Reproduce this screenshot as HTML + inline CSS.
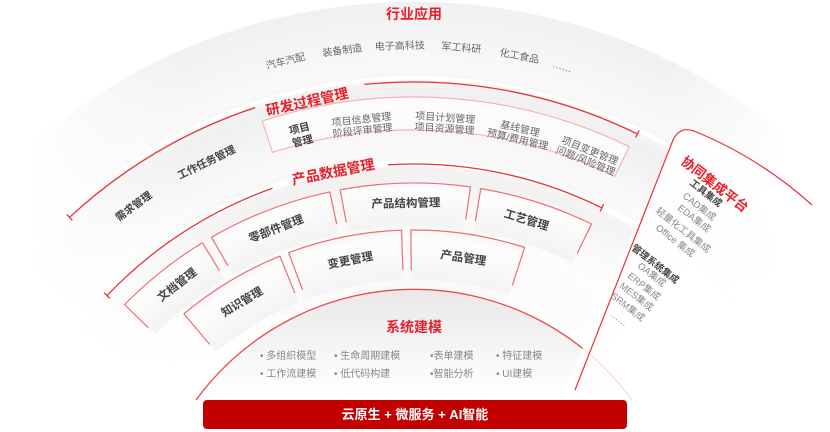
<!DOCTYPE html>
<html><head><meta charset="utf-8">
<style>
html,body{margin:0;padding:0;background:#fff;width:830px;height:432px;overflow:hidden}
svg{display:block}
text{font-family:"Liberation Sans","Noto Sans CJK SC",sans-serif}
.it{font-size:10px;fill:#666}
.cd{font-size:11.5px;fill:#444;font-weight:bold}
.rt{font-size:14px;fill:#e8202a;font-weight:bold}
.pn{font-size:9.5px;fill:#888}
.pb{font-size:9.5px;fill:#444;font-weight:bold}
</style></head><body>
<svg width="830" height="432" viewBox="0 0 830 432" xmlns="http://www.w3.org/2000/svg">
<defs>
<radialGradient id="bg" gradientUnits="userSpaceOnUse" cx="414" cy="588" r="590">
<stop offset="0.5" stop-color="#f2f2f2"/>
<stop offset="0.6" stop-color="#fbfbfb"/>
<stop offset="0.7" stop-color="#f1f1f1"/>
<stop offset="0.74" stop-color="#fafafa"/>
<stop offset="0.84" stop-color="#f0f0f0"/>
<stop offset="0.88" stop-color="#f9f9f9"/>
<stop offset="1" stop-color="#f0f0f0"/>
</radialGradient>
<radialGradient id="cg" gradientUnits="userSpaceOnUse" cx="414" cy="588" r="410">
<stop offset="0.74" stop-color="#f3f3f3"/>
<stop offset="0.85" stop-color="#fdfdfd"/>
<stop offset="0.88" stop-color="#f3f3f3"/>
<stop offset="1" stop-color="#ffffff"/>
</radialGradient>
<linearGradient id="dg" x1="0" y1="0" x2="0" y2="1">
<stop offset="0" stop-color="#e8e8e8"/><stop offset="0.6" stop-color="#f7f7f7"/><stop offset="1" stop-color="#ffffff"/>
</linearGradient>
<linearGradient id="fadeX" x1="0" y1="0" x2="1" y2="0">
<stop offset="0.03" stop-color="#000"/><stop offset="0.22" stop-color="#fff"/><stop offset="0.8" stop-color="#fff"/><stop offset="0.95" stop-color="#000"/>
</linearGradient>
<linearGradient id="fadeY" x1="0" y1="0" x2="0" y2="1">
<stop offset="0.45" stop-color="#fff"/><stop offset="0.85" stop-color="#000"/>
</linearGradient>
<mask id="mk"><rect x="0" y="0" width="830" height="432" fill="url(#fadeX)"/></mask>
<mask id="mk2"><rect x="0" y="0" width="830" height="432" fill="url(#fadeY)"/></mask>
<linearGradient id="pg" x1="0" y1="0" x2="1" y2="1">
<stop offset="0" stop-color="#fff"/><stop offset="1" stop-color="#fff" stop-opacity="0.6"/>
</linearGradient>
</defs>

<g mask="url(#mk2)"><g mask="url(#mk)">
<path id="b1" fill="url(#bg)"/>
<path id="b2" fill="url(#bg)"/>
<path id="b3" fill="url(#bg)"/>
</g></g>

<path id="a1" fill="none" stroke="#e8323c" stroke-width="1.3"/>
<path id="a2" fill="none" stroke="#e8323c" stroke-width="1.3"/>
<path id="box" fill="#fbfbfb" stroke="#f3b0b4" stroke-width="1.1"/>
<path id="a3" fill="none" stroke="#e8323c" stroke-width="1.3"/>
<path id="a4" fill="none" stroke="#e8323c" stroke-width="1.3"/>

<g id="cards"></g>

<path d="M 196 400 A 270 270 0 0 1 632 400 Z" fill="url(#dg)"/>
<path d="M 196 400 A 270 270 0 0 1 632 400" fill="none" stroke="#ea4a52" stroke-width="1.3"/>

<path d="M 560 400 L 673 140 Q 680 126 694 131 Q 760 158 812 205 L 812 432 L 560 432 Z" fill="url(#pg)"/>
<path d="M 575 390 L 673 140 Q 680 126 694 131 Q 760 158 812 205" fill="none" stroke="#e8323c" stroke-width="1.2"/>

<rect x="203" y="400" width="424" height="29" rx="4" fill="#c20000"/>
<text x="415" y="419" text-anchor="middle" style="font-size:13px;font-weight:bold;fill:#fff">云原生 + 微服务 + AI智能</text>

<text x="414" y="19" text-anchor="middle" class="rt">行业应用</text>
<g class="it" text-anchor="middle">
<text x="414" y="49" transform="rotate(-13.7 414 588)">汽车汽配</text>
<text x="414" y="49" transform="rotate(-7.6 414 588)">装备制造</text>
<text x="414" y="49" transform="rotate(-1.5 414 588)">电子高科技</text>
<text x="414" y="49" transform="rotate(5 414 588)">军工科研</text>
<text x="414" y="49" transform="rotate(11.2 414 588)">化工食品</text>
<text x="414" y="49" transform="rotate(15.9 414 588)">……</text>
</g>

<text x="414" y="95" text-anchor="middle" class="rt" transform="rotate(-12.4 414 588)">研发过程管理</text>
<g text-anchor="middle">
<text x="414" y="118" class="cd" style="font-size:10.5px" transform="rotate(-14 414 588)">项目</text>
<text x="414" y="131" class="cd" style="font-size:10.5px" transform="rotate(-14 414 588)">管理</text>
<text x="414" y="120" class="it" transform="rotate(-6.4 414 588)">项目信息管理</text>
<text x="414" y="131" class="it" transform="rotate(-6.4 414 588)">阶段评审管理</text>
<text x="414" y="120" class="it" transform="rotate(3.8 414 588)">项目计划管理</text>
<text x="414" y="131" class="it" transform="rotate(3.8 414 588)">项目资源管理</text>
<text x="414" y="120" class="it" transform="rotate(13 414 588)">基线管理</text>
<text x="414" y="131" class="it" transform="rotate(13 414 588)">预算/费用管理</text>
<text x="414" y="120" class="it" transform="rotate(21.9 414 588)">项目变更管理</text>
<text x="414" y="131" class="it" transform="rotate(21.9 414 588)">问题/风险管理</text>
<text x="414" y="118" class="cd" style="font-size:10.5px" transform="rotate(-26 414 588)">工作任务管理</text>
<text x="414" y="118" class="cd" style="font-size:10.5px" transform="rotate(-36.3 414 588)">需求管理</text>
</g>

<text x="414" y="169" text-anchor="middle" class="rt" transform="rotate(-11 414 588)">产品数据管理</text>
<g text-anchor="middle" class="cd">
<text x="414" y="207" transform="rotate(-38 414 588)">文档管理</text>
<text x="414" y="207" transform="rotate(-21 414 588)">零部件管理</text>
<text x="414" y="207" transform="rotate(-1.2 414 588)">产品结构管理</text>
<text x="414" y="207" transform="rotate(17 414 588)">工艺管理</text>
<text x="414" y="258" transform="rotate(-31 414 588)">知识管理</text>
<text x="414" y="258" transform="rotate(-11 414 588)">变更管理</text>
<text x="414" y="258" transform="rotate(8.5 414 588)">产品管理</text>
</g>

<text x="414" y="332" text-anchor="middle" class="rt">系统建模</text>
<g style="font-size:10px;fill:#888">
<text x="260" y="359">• 多组织模型</text>
<text x="334" y="359">• 生命周期建模</text>
<text x="430" y="359">•表单建模</text>
<text x="496" y="359">• 特征建模</text>
<text x="260" y="377">• 工作流建模</text>
<text x="334" y="377">• 低代码构建</text>
<text x="430" y="377">•智能分析</text>
<text x="496" y="377">• UI建模</text>
</g>

<text x="680" y="163" class="rt" style="font-size:13.5px" transform="rotate(38 680 163)">协同集成平台</text>
<text x="689" y="184" class="pb" transform="rotate(38 689 184)">工具集成</text>
<text x="682" y="197" class="pn" transform="rotate(38 682 197)">CAD集成</text>
<text x="677" y="209" class="pn" transform="rotate(38 677 209)">EDA集成</text>
<text x="655" y="212" class="pn" transform="rotate(38 655 212)">轻量化工具集成</text>
<text x="655" y="229" class="pn" transform="rotate(38 655 229)">Office 集成</text>
<text x="631" y="249" class="pb" transform="rotate(38 631 249)">管理系统集成</text>
<text x="637" y="267" class="pn" transform="rotate(38 637 267)">OA集成</text>
<text x="627" y="277" class="pn" transform="rotate(38 627 277)">ERP集成</text>
<text x="619" y="287" class="pn" transform="rotate(38 619 287)">MES集成</text>
<text x="610" y="297" class="pn" transform="rotate(38 610 297)">SRM集成</text>
<text x="610" y="315" class="pn" transform="rotate(38 610 315)">……</text>
</svg>
<script>
var CX=414,CY=588;
function P(r,a){a=a*Math.PI/180;return (CX+r*Math.sin(a)).toFixed(1)+' '+(CY-r*Math.cos(a)).toFixed(1);}
function sector(r1,r2,a1,a2){return 'M '+P(r1,a1)+' L '+P(r2,a1)+' A '+r2+' '+r2+' 0 0 1 '+P(r2,a2)+' L '+P(r1,a2)+' A '+r1+' '+r1+' 0 0 0 '+P(r1,a1)+' Z';}
function arc(r,a1,a2){return 'M '+P(r,a1)+' A '+r+' '+r+' 0 0 1 '+P(r,a2);}
function tick(r,a){return ' M '+P(r-4,a)+' L '+P(r+4,a);}
function s(id,d){document.getElementById(id).setAttribute('d',d);}
s('b1',sector(512,586,-50,52));
s('b2',sector(428,508,-50,52));
s('b3',sector(300,422,-52,40));
s('a1',tick(506,-42.9)+' '+arc(506,-42.9,-18.3));
s('a2',arc(506,-5.6,26.2)+tick(506,26.2));
s('box',sector(458,491,-18,26));
s('a3',tick(424,-46.4)+' '+arc(424,-46.4,-19.5));
s('a4',arc(424,-3.5,26.3)+tick(424,26.3));
var cards=[[362,405,-45.6,-31.5],[362,405,-30,-12],[362,405,-10.5,8],[362,405,9.5,26],[308,358,-40,-22],[308,358,-20.5,-2],[308,358,-0.5,18]];
var g=document.getElementById('cards'),ns='http://www.w3.org/2000/svg';
cards.forEach(function(c){
 var f=document.createElementNS(ns,'path');f.setAttribute('d',sector(c[0],c[1],c[2],c[3]));f.setAttribute('fill','url(#cg)');g.appendChild(f);
 var o=document.createElementNS(ns,'path');
 o.setAttribute('d','M '+P(c[0]+10,c[2])+' L '+P(c[1],c[2])+' A '+c[1]+' '+c[1]+' 0 0 1 '+P(c[1],c[3])+' L '+P(c[0]+10,c[3]));
 o.setAttribute('fill','none');o.setAttribute('stroke','#ea4a52');o.setAttribute('stroke-width','1.2');o.setAttribute('stroke-linejoin','round');o.setAttribute('stroke-opacity','0.8');g.appendChild(o);
});
</script>
</body></html>
